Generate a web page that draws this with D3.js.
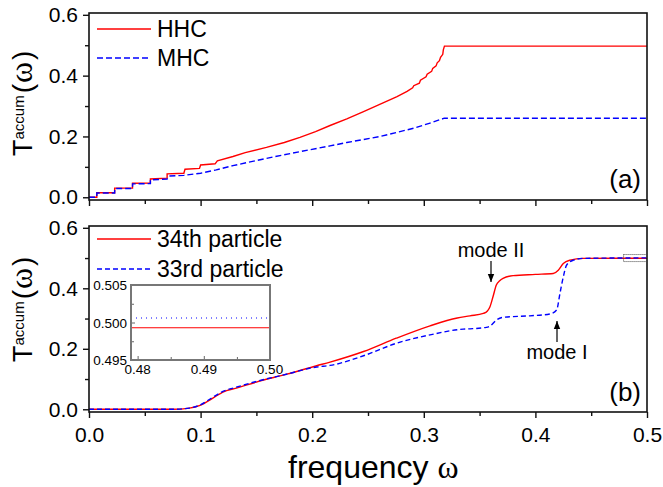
<!DOCTYPE html>
<html>
<head>
<meta charset="utf-8">
<script src="https://cdn.jsdelivr.net/npm/d3@7"></script>
<style>
  body { margin: 0; background: #fff; }
  svg text { font-family: "Liberation Sans", Arial, sans-serif; fill: #000; }
</style>
</head>
<body>
<div class="canvas"></div>
<script>
// panel (a): accumulated transmission, HHC vs MHC
const hhc = [[0,0],[0.007,0],[0.007,0.015],[0.023,0.015],[0.023,0.03],[0.039,0.03],[0.039,0.046],
  [0.055,0.047],[0.055,0.06],[0.07,0.063],[0.07,0.077],[0.085,0.079],[0.086,0.092],[0.099,0.095],
  [0.1,0.106],[0.113,0.11],[0.115,0.12],[0.129,0.134],[0.14,0.147],[0.159,0.164],[0.175,0.18],
  [0.189,0.197],[0.203,0.216],[0.216,0.236],[0.231,0.258],[0.246,0.282],[0.261,0.306],[0.276,0.331],
  [0.285,0.348],[0.29,0.36],[0.291,0.367],[0.296,0.375],[0.297,0.385],[0.302,0.396],[0.303,0.405],
  [0.307,0.414],[0.308,0.424],[0.311,0.432],[0.312,0.442],[0.314,0.449],[0.315,0.46],[0.317,0.47],
  [0.3175,0.485],[0.3185,0.497],[0.5,0.497]];
const mhc = [[0,0],[0.007,0],[0.007,0.014],[0.023,0.014],[0.023,0.029],[0.039,0.029],[0.039,0.044],
  [0.055,0.045],[0.055,0.057],[0.07,0.06],[0.072,0.07],[0.085,0.072],[0.1,0.079],[0.114,0.09],
  [0.129,0.104],[0.159,0.128],[0.189,0.15],[0.216,0.169],[0.231,0.18],[0.261,0.2],[0.291,0.227],
  [0.3056,0.244],[0.3184,0.26],[0.5,0.26]];

// panel (b): 34th and 33rd particle
const p34 = [[0,0],[0.075,0],[0.09,0.004],[0.0995,0.013],[0.111,0.037],[0.12,0.057],[0.132,0.07],
  [0.15,0.09],[0.177,0.116],[0.204,0.144],[0.216,0.156],[0.246,0.191],[0.2753,0.235],[0.3056,0.276],
  [0.33,0.302],[0.3414,0.309],[0.3533,0.317],[0.357,0.325],[0.3593,0.339],[0.362,0.372],[0.365,0.411],
  [0.368,0.425],[0.371,0.433],[0.38,0.442],[0.4,0.446],[0.416,0.449],[0.4205,0.46],[0.425,0.482],
  [0.431,0.493],[0.4427,0.499],[0.5,0.4993]];
const p33 = [[0,0],[0.075,0],[0.09,0.004],[0.0995,0.014],[0.111,0.04],[0.12,0.059],[0.132,0.073],
  [0.15,0.092],[0.177,0.116],[0.204,0.14],[0.216,0.145],[0.246,0.177],[0.2753,0.218],[0.3056,0.246],
  [0.3354,0.265],[0.3414,0.266],[0.356,0.271],[0.3593,0.275],[0.365,0.295],[0.371,0.304],[0.395,0.309],
  [0.413,0.315],[0.419,0.328],[0.422,0.383],[0.425,0.438],[0.428,0.477],[0.434,0.493],[0.4427,0.499],
  [0.5,0.5006]];

// inset (zoom near omega = 0.5)
const insetX = [0.479, 0.5];
const insetY = [0.495, 0.505];
const inset34 = 0.4993;
const inset33 = 0.5006;

const xMajor = [0, 0.1, 0.2, 0.3, 0.4, 0.5];
const xMinor = [0.05, 0.15, 0.25, 0.35, 0.45];
const yMajor = [0, 0.2, 0.4, 0.6];
const yMinor = [0.1, 0.3, 0.5];

const svg = d3.select('.canvas')
  .append('svg')
    .attr('width', 663)
    .attr('height', 487);

const x = d3.scaleLinear().domain([0, 0.5]).range([89, 647]);
const yDomain = [-0.009, 0.606];

const panels = [
  {top: 13, bottom: 200, tag: '(a)', tagY: 188, series: [
    {data: hhc, color: '#ff0000', dash: null, name: 'HHC'},
    {data: mhc, color: '#0000ff', dash: '6,3', name: 'MHC'}], curve: d3.curveLinear},
  {top: 226, bottom: 412, tag: '(b)', tagY: 401, series: [
    {data: p34, color: '#ff0000', dash: null, name: '34th particle'},
    {data: p33, color: '#0000ff', dash: '5,3', name: '33rd particle'}], curve: d3.curveMonotoneX}
];

panels.forEach((p, pi) => {
  const y = d3.scaleLinear().domain(yDomain).range([p.bottom, p.top]);
  const g = svg.append('g');

  // x axis (labels only on bottom panel)
  g.append('g').attr('transform', `translate(0,${p.bottom})`)
    .call(d3.axisBottom(x).tickValues(xMajor).tickSizeInner(6).tickSizeOuter(0).tickPadding(9)
      .tickFormat(pi === 1 ? d3.format('.1f') : () => ''));
  g.append('g').attr('transform', `translate(0,${p.bottom})`)
    .call(d3.axisBottom(x).tickValues(xMinor).tickSizeInner(4).tickSizeOuter(0).tickFormat(() => ''));

  g.append('g').attr('transform', 'translate(89,0)')
    .call(d3.axisLeft(y).tickValues(yMajor).tickSizeInner(6).tickSizeOuter(0).tickPadding(5)
      .tickFormat(d3.format('.1f')));
  g.append('g').attr('transform', 'translate(89,0)')
    .call(d3.axisLeft(y).tickValues(yMinor).tickSizeInner(4).tickSizeOuter(0).tickFormat(() => ''));

  g.selectAll('.domain').remove();
  g.selectAll('.tick line').attr('stroke', '#111').attr('stroke-width', 1.4);
  g.selectAll('.tick text').attr('font-size', 21).attr('font-family', '"Liberation Sans", Arial, sans-serif');

  // curves
  const line = d3.line().x(d => x(d[0])).y(d => y(d[1])).curve(p.curve);
  p.series.forEach(s => {
    g.append('path')
      .datum(s.data)
      .attr('d', line)
      .attr('fill', 'none')
      .attr('stroke', s.color)
      .attr('stroke-width', 1.4)
      .attr('stroke-dasharray', s.dash);
  });

  // frame
  g.append('rect')
    .attr('x', 89).attr('y', p.top)
    .attr('width', 647 - 89).attr('height', p.bottom - p.top)
    .attr('fill', 'none').attr('stroke', '#111').attr('stroke-width', 1.6);

  // legend
  const legY = pi === 0 ? [29, 58] : [239, 269];
  p.series.forEach((s, i) => {
    g.append('line')
      .attr('x1', 97).attr('x2', 151).attr('y1', legY[i]).attr('y2', legY[i])
      .attr('stroke', s.color).attr('stroke-width', 1.4).attr('stroke-dasharray', s.dash);
    g.append('text')
      .attr('x', 157).attr('y', legY[i] + 8)
      .attr('font-size', 23)
      .text(s.name);
  });

  // panel tag
  g.append('text').attr('x', 641).attr('y', p.tagY)
    .attr('text-anchor', 'end').attr('font-size', 26).text(p.tag);

  // y axis title
  const yt = g.append('text')
    .attr('transform', `translate(32,${pi === 0 ? 156 : 362}) rotate(-90)`);
  yt.append('tspan').attr('font-size', 27).text('T');
  yt.append('tspan').attr('font-size', 15).attr('dy', -8).text('accum');
  yt.append('tspan').attr('font-size', 28).attr('dy', 8).attr('dx', 2).text('(');
  yt.append('tspan').attr('font-size', 32).attr('dx', 1).attr('font-family', '"Liberation Serif", serif').text('ω');
  yt.append('tspan').attr('font-size', 28).attr('dx', 2).text(')');

  if (pi === 1) {
    // dotted box showing inset region
    g.append('rect')
      .attr('x', x(insetX[0])).attr('y', y(insetY[1]) - 2)
      .attr('width', x(insetX[1]) - x(insetX[0])).attr('height', y(insetY[0]) - y(insetY[1]) + 4)
      .attr('fill', 'none').attr('stroke', '#444').attr('stroke-width', 1)
      .attr('stroke-dasharray', '1,1');

    // annotations
    const defs = svg.append('defs');
    defs.append('marker').attr('id', 'arr').attr('viewBox', '0 0 10 10')
      .attr('refX', 10).attr('refY', 5).attr('markerWidth', 7).attr('markerHeight', 7)
      .attr('orient', 'auto')
      .append('path').attr('d', 'M0,1 L10,5 L0,9 Z').attr('fill', '#000');
    g.append('text').attr('x', 491).attr('y', 257).attr('text-anchor', 'middle')
      .attr('font-size', 20).text('mode II');
    g.append('line').attr('x1', 491).attr('x2', 491).attr('y1', 261).attr('y2', 282)
      .attr('stroke', '#000').attr('stroke-width', 1.2).attr('marker-end', 'url(#arr)');
    g.append('text').attr('x', 557).attr('y', 359).attr('text-anchor', 'middle')
      .attr('font-size', 20).text('mode I');
    g.append('line').attr('x1', 557).attr('x2', 557).attr('y1', 342).attr('y2', 321)
      .attr('stroke', '#000').attr('stroke-width', 1.2).attr('marker-end', 'url(#arr)');

    // inset
    const ix = d3.scaleLinear().domain(insetX).range([131, 270]);
    const iy = d3.scaleLinear().domain(insetY).range([360, 285]);
    const ig = svg.append('g');
    ig.append('rect').attr('x', 131).attr('y', 285).attr('width', 139).attr('height', 75)
      .attr('fill', '#fff');
    ig.append('line').attr('x1', ix(insetX[0])).attr('x2', ix(insetX[1]))
      .attr('y1', iy(inset33)).attr('y2', iy(inset33))
      .attr('stroke', '#0000ff').attr('stroke-width', 1).attr('stroke-dasharray', '1,4');
    ig.append('line').attr('x1', ix(insetX[0])).attr('x2', ix(insetX[1]))
      .attr('y1', iy(inset34)).attr('y2', iy(inset34))
      .attr('stroke', '#ff0000').attr('stroke-width', 1.2);

    ig.append('g').attr('transform', 'translate(0,360)')
      .call(d3.axisTop(ix).tickValues([0.48, 0.49, 0.5]).tickSizeInner(4).tickSizeOuter(0).tickFormat(() => ''));
    ig.append('g').attr('transform', 'translate(0,360)')
      .call(d3.axisTop(ix).tickValues([0.485, 0.495]).tickSizeInner(3).tickSizeOuter(0).tickFormat(() => ''));
    ig.append('g').attr('transform', 'translate(131,0)')
      .call(d3.axisRight(iy).tickValues([0.495, 0.5, 0.505]).tickSizeInner(4).tickSizeOuter(0).tickFormat(() => ''));
    ig.append('g').attr('transform', 'translate(131,0)')
      .call(d3.axisRight(iy).tickValues([0.4975, 0.5025]).tickSizeInner(3).tickSizeOuter(0).tickFormat(() => ''));
    ig.selectAll('.domain').remove();
    ig.selectAll('.tick line').attr('stroke', '#666').attr('stroke-width', 1);

    ig.selectAll('.xl').data([0.48, 0.49, 0.5]).enter().append('text')
      .attr('x', d => ix(d)).attr('y', 374).attr('text-anchor', 'middle')
      .attr('font-size', 13.5).attr('fill', '#222').text(d3.format('.2f'));
    ig.selectAll('.yl').data([0.495, 0.5, 0.505]).enter().append('text')
      .attr('x', 127).attr('y', d => iy(d) + 5).attr('text-anchor', 'end')
      .attr('font-size', 13.5).attr('fill', '#222').text(d3.format('.3f'));

    ig.append('rect').attr('x', 131).attr('y', 285).attr('width', 139).attr('height', 75)
      .attr('fill', 'none').attr('stroke', '#777').attr('stroke-width', 2);
  }
});

// x axis title
const xt = svg.append('text').attr('x', 288).attr('y', 478).attr('font-size', 32);
xt.append('tspan').text('frequency ');
xt.append('tspan').attr('font-family', '"Liberation Serif", serif').text('ω');
</script>
</body>
</html>
